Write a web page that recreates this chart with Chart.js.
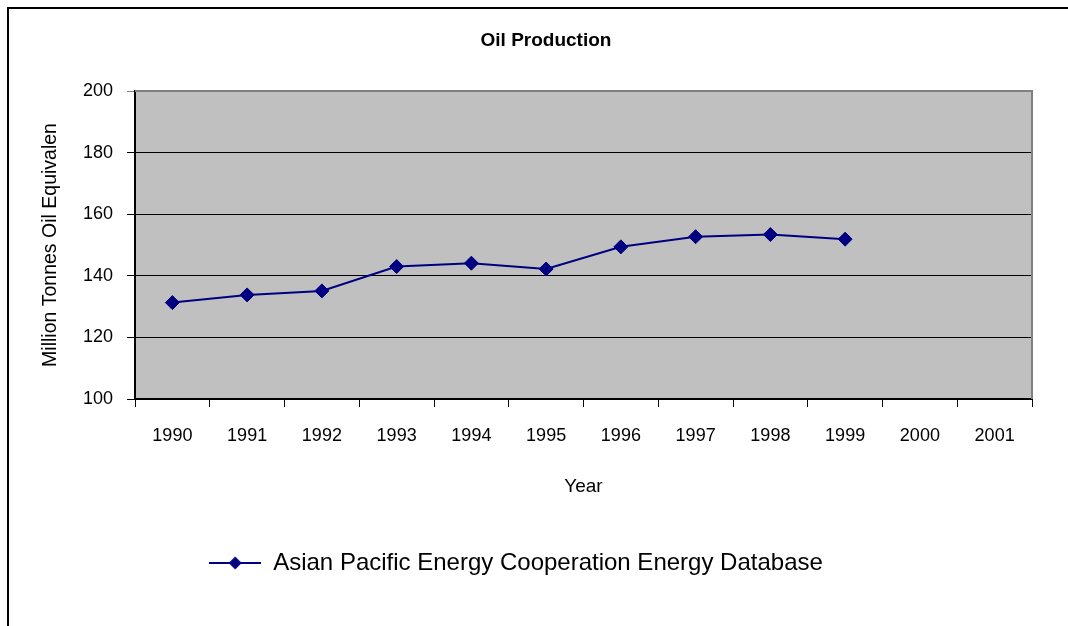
<!DOCTYPE html>
<html>
<head>
<meta charset="utf-8">
<script src="https://cdn.jsdelivr.net/npm/chart.js@4/dist/chart.umd.min.js"></script>
<style>
  body { margin: 0; background: #fff; }
  #chart { display: block; }
</style>
</head>
<body>
<canvas id="chart" width="1068" height="626"></canvas>
<script>
// data
var years = ['1990', '1991', '1992', '1993', '1994', '1995', '1996', '1997', '1998', '1999', '2000', '2001'];
var oilProduction = [131.3, 133.8, 135.1, 143.0, 144.1, 142.2, 149.4, 152.7, 153.4, 151.9, null, null];
var yTicks = [100, 120, 140, 160, 180, 200];

var navy = '#000080';
var sans = '"Liberation Sans", Arial, sans-serif';

// legend marker: line with a diamond on it
var marker = document.createElement('canvas');
marker.width = 52;
marker.height = 16;
var m = marker.getContext('2d');
m.strokeStyle = navy;
m.lineWidth = 2;
m.beginPath();
m.moveTo(0, 8);
m.lineTo(52, 8);
m.stroke();
m.fillStyle = navy;
m.beginPath();
m.moveTo(26, 1.5);
m.lineTo(32.5, 8);
m.lineTo(26, 14.5);
m.lineTo(19.5, 8);
m.closePath();
m.fill();

// grey plot background + outer frame
var frame = {
  id: 'frame',
  afterLayout: function (chart) {
    // title sits a little right of the page centre in the original
    chart.titleBlock.left += 30;
    chart.titleBlock.right += 30;
  },
  beforeDraw: function (chart) {
    var a = chart.chartArea, ctx = chart.ctx;
    ctx.save();
    ctx.fillStyle = '#c0c0c0';
    ctx.fillRect(a.left, a.top, a.right - a.left, a.bottom - a.top);
    ctx.strokeStyle = '#000';
    ctx.lineWidth = 2;
    ctx.beginPath();
    ctx.moveTo(8, 640);
    ctx.lineTo(8, 8);
    ctx.lineTo(1080, 8);
    ctx.stroke();
    ctx.restore();
  },
  afterDatasetsDraw: function (chart) {
    var a = chart.chartArea, ctx = chart.ctx;
    ctx.save();
    ctx.strokeStyle = '#808080';
    ctx.lineWidth = 2;
    ctx.beginPath();
    ctx.moveTo(a.left, a.top);
    ctx.lineTo(a.right, a.top);
    ctx.lineTo(a.right, a.bottom);
    ctx.stroke();
    ctx.restore();
  }
};

var ctx = document.getElementById('chart').getContext('2d');
var chart = new Chart(ctx, {
  type: 'line',
  data: {
    labels: years,
    datasets: [{
      label: 'Asian Pacific Energy Cooperation Energy Database',
      data: oilProduction,
      borderColor: navy,
      backgroundColor: navy,
      borderWidth: 2,
      pointStyle: 'rectRot',
      pointRadius: 7,
      pointBorderWidth: 1,
      pointBackgroundColor: navy,
      pointBorderColor: navy,
      tension: 0,
      spanGaps: false
    }]
  },
  options: {
    responsive: false,
    animation: false,
    layout: { padding: { left: 0, right: 36, top: 0, bottom: 41 } },
    plugins: {
      title: {
        display: true,
        text: 'Oil Production',
        color: '#000',
        font: { family: sans, size: 19, weight: 'bold' },
        padding: { top: 29.5, bottom: 38.7 }
      },
      legend: {
        position: 'bottom',
        labels: {
          color: '#000',
          font: { family: sans, size: 24 },
          usePointStyle: true,
          pointStyleWidth: 52,
          padding: 10,
          generateLabels: function (c) {
            var ds = c.data.datasets[0];
            return [{ text: ds.label, pointStyle: marker, fillStyle: navy, strokeStyle: navy, lineWidth: 0, datasetIndex: 0 }];
          }
        }
      },
      tooltip: { enabled: false }
    },
    scales: {
      x: {
        type: 'category',
        offset: true,
        grid: { offset: true, drawOnChartArea: false, drawTicks: true, tickLength: 8, color: '#000', lineWidth: 1 },
        border: { display: true, color: '#000', width: 2 },
        ticks: { color: '#000', font: { family: sans, size: 18 }, padding: 18, maxRotation: 0, autoSkip: false },
        title: {
          display: true,
          text: 'Year',
          color: '#000',
          font: { family: sans, size: 19 },
          padding: { top: 0, bottom: 42.6 }
        },
        afterFit: function (s) { s.height = 541 - 399; }
      },
      y: {
        min: 100,
        max: 200,
        afterBuildTicks: function (s) { s.ticks = yTicks.map(function (v) { return { value: v }; }); },
        grid: {
          color: function (c) { return c.tick && c.tick.value === 200 ? '#808080' : '#000'; },
          lineWidth: 1,
          drawTicks: true,
          tickLength: 8
        },
        border: { display: true, color: '#000', width: 2 },
        ticks: { color: '#000', font: { family: sans, size: 18 }, padding: 14 },
        title: {
          display: true,
          text: 'Million Tonnes Oil Equivalen',
          color: '#000',
          font: { family: sans, size: 19.5 },
          padding: { top: 39.3, bottom: 0 }
        },
        afterFit: function (s) { s.width = 135; }
      }
    }
  },
  plugins: [frame]
});
</script>
</body>
</html>
